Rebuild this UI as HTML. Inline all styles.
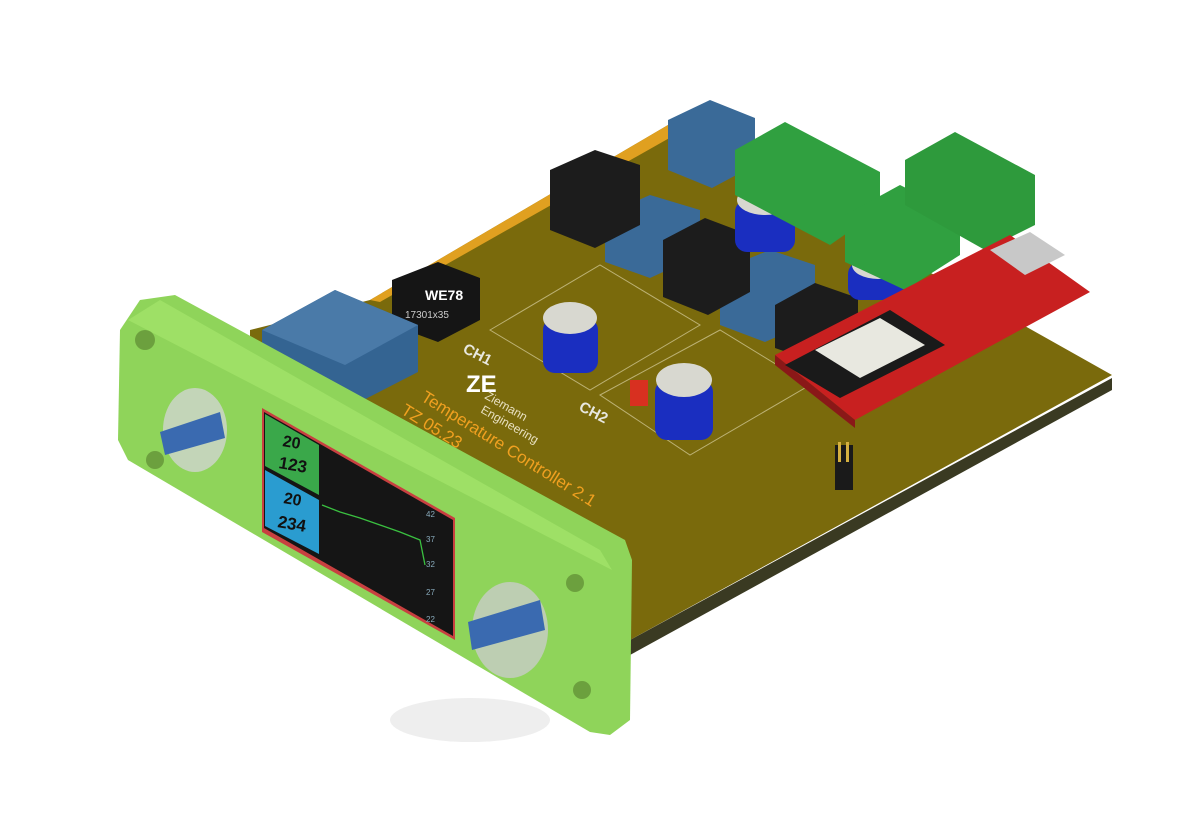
<!DOCTYPE html>
<html><head><meta charset="utf-8"><style>html,body{margin:0;padding:0;background:#fff}svg{display:block}</style></head><body>
<svg width="1200" height="832" viewBox="0 0 1200 832" xmlns="http://www.w3.org/2000/svg" font-family="Liberation Sans, sans-serif">
<ellipse cx="470" cy="720" rx="80" ry="22" fill="#eee"/>
<!-- board edge (thickness) -->
<polygon points="630,640 1112,378 1112,390 630,655" fill="#3a3a22"/>
<!-- board top -->
<polygon points="668,125 1112,375 630,640 250,420 250,330 370,300" fill="#7a6a0c"/>
<polygon points="668,125 680,132 380,302 370,300" fill="#e0a020"/>
<!-- silkscreen outlines -->
<g fill="none" stroke="#d8d0a0" stroke-width="1" opacity="0.7">
<polygon points="490,330 600,265 700,325 590,390"/>
<polygon points="600,395 720,330 810,385 690,455"/>
</g>
<g fill="#e8e8e0" font-size="15" font-weight="bold">
<text transform="translate(462,352) rotate(27)">CH1</text>
<text transform="translate(578,410) rotate(27)">CH2</text>
</g>
<text transform="translate(466,392)" fill="#fff" font-size="24" font-weight="bold">ZE</text>
<text transform="translate(484,398) rotate(30)" fill="#e8e0c0" font-size="12">Ziemann</text>
<text transform="translate(480,412) rotate(30)" fill="#e8e0c0" font-size="12">Engineering</text>
<text transform="translate(420,400) rotate(32)" fill="#f0a020" font-size="17">Temperature Controller 2.1</text>
<text transform="translate(400,413) rotate(32)" fill="#f0a020" font-size="17">TZ 05.23</text>
<!-- relay boxes -->
<polygon points="668,120 710,100 755,118 755,165 712,188 668,170" fill="#3a6a98"/>
<polygon points="605,215 650,195 700,210 700,255 650,278 605,262" fill="#3a6a98"/>
<polygon points="720,270 770,250 815,265 815,320 765,342 720,325" fill="#3a6a98"/>
<!-- inductors -->
<g fill="#1c1c1c">
<polygon points="550,170 595,150 640,165 640,225 595,248 550,230"/>
<polygon points="663,240 705,218 750,235 750,292 708,315 663,297"/>
<polygon points="775,305 815,283 858,298 858,345 815,362 775,348"/>
</g>
<!-- transformer -->
<polygon points="392,280 438,262 480,278 480,320 438,342 392,325" fill="#151515"/>
<text x="425" y="300" fill="#fff" font-size="14" font-weight="bold">WE78</text>
<text x="405" y="318" fill="#ccc" font-size="10">17301x35</text>
<!-- big blue block -->
<polygon points="262,330 335,290 418,325 418,372 340,412 262,380" fill="#346492"/>
<polygon points="262,330 335,290 418,325 345,365" fill="#4a7aa8"/>
<!-- capacitors -->
<g>
<rect x="543" y="318" width="55" height="55" rx="12" fill="#1a2ec0"/><ellipse cx="570" cy="318" rx="27" ry="16" fill="#d8d8d0"/>
<rect x="655" y="380" width="58" height="60" rx="12" fill="#1a2ec0"/><ellipse cx="684" cy="380" rx="28" ry="17" fill="#d8d8d0"/>
<rect x="735" y="200" width="60" height="52" rx="12" fill="#1a2ec0"/><ellipse cx="765" cy="200" rx="28" ry="15" fill="#d8d8d0"/>
<rect x="848" y="262" width="60" height="38" rx="12" fill="#1a2ec0"/><ellipse cx="878" cy="265" rx="26" ry="14" fill="#d8d8d0"/>
</g>
<rect x="630" y="380" width="18" height="26" fill="#d83020"/>
<!-- terminal blocks -->
<polygon points="735,150 785,122 880,172 880,210 830,245 735,195" fill="#30a040"/>
<polygon points="845,215 900,185 960,215 960,255 905,290 845,262" fill="#30a040"/>
<polygon points="905,160 955,132 1035,175 1035,225 985,250 905,205" fill="#2e9a3c"/>
<!-- ESP board -->
<polygon points="775,355 1010,235 1090,292 855,420" fill="#c82020"/>
<polygon points="775,355 855,420 855,428 775,365" fill="#8a1818"/>
<polygon points="785,365 890,310 945,345 840,398" fill="#1a1a1a"/>
<polygon points="815,350 880,318 925,345 860,378" fill="#e8e8e0"/>
<polygon points="990,250 1030,232 1065,255 1025,275" fill="#c8c8c8"/>
<!-- pins -->
<rect x="835" y="445" width="18" height="45" fill="#1a1a1a"/>
<rect x="838" y="442" width="3" height="20" fill="#d4b040"/><rect x="846" y="442" width="3" height="20" fill="#d4b040"/>
<!-- front panel -->
<polygon points="120,330 140,300 175,295 625,540 632,560 630,720 610,735 590,732 128,460 118,440" fill="#8fd45a"/>
<polygon points="128,320 160,300 600,550 612,570" fill="#9ee066"/>
<circle cx="145" cy="340" r="10" fill="#6ca03e"/>
<circle cx="155" cy="460" r="9" fill="#6ca03e"/>
<circle cx="575" cy="583" r="9" fill="#6ca03e"/>
<circle cx="582" cy="690" r="9" fill="#6ca03e"/>
<ellipse cx="195" cy="430" rx="32" ry="42" fill="#d0d4d0" opacity="0.8"/>
<ellipse cx="510" cy="630" rx="38" ry="48" fill="#c8ccc8" opacity="0.8"/>
<polygon points="160,432 220,412 225,438 165,455" fill="#3a6ab0"/>
<polygon points="468,622 540,600 545,630 472,650" fill="#3a6ab0"/>
<!-- display -->
<polygon points="262,408 455,518 455,640 262,532" fill="#c84040"/>
<polygon points="264,412 453,520 453,636 264,528" fill="#151515"/>
<polygon points="265,414 319,445 319,495 265,466" fill="#3aa84a"/>
<polygon points="265,470 319,500 319,554 265,526" fill="#2a9cd0"/>
<g fill="#111" font-weight="bold">
<text transform="translate(282,446) rotate(10)" font-size="16">20</text>
<text transform="translate(278,468) rotate(10)" font-size="17">123</text>
<text transform="translate(283,503) rotate(10)" font-size="16">20</text>
<text transform="translate(277,527) rotate(10)" font-size="17">234</text>
</g>
<polyline points="322,505 340,512 360,518 380,525 400,532 420,540 425,565" fill="none" stroke="#3ac040" stroke-width="1.3"/>
<g fill="#8ab" font-size="8"><text x="426" y="517">42</text><text x="426" y="542">37</text><text x="426" y="567">32</text><text x="426" y="595">27</text><text x="426" y="622">22</text></g>
</svg>
</body></html>
